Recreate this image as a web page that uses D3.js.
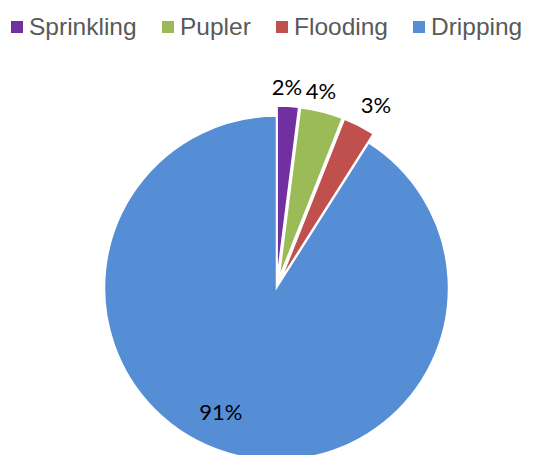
<!DOCTYPE html>
<html>
<head>
<meta charset="utf-8">
<script src="https://cdn.jsdelivr.net/npm/d3@7"></script>
<style>
  body { margin: 0; background: #fff; }
  svg { display: block; }
</style>
</head>
<body>
<svg width="553" height="455"></svg>
<script>
const categories = ["Sprinkling", "Pupler", "Flooding", "Dripping"];
const shares = [2, 4, 3, 91];
const labels = ["2%", "4%", "3%", "91%"];
const colors = ["#7030A0", "#9BBB59", "#C0504D", "#558ED5"];

function main() {
  const svg = d3.select("svg");
  const cx = 276.5, cy = 288, radius = 172;

  // legend across the top
  const legendX = [11, 162, 276, 413];
  const legend = svg.append("g");
  categories.forEach((c, i) => {
    legend.append("rect")
      .attr("x", legendX[i]).attr("y", 21)
      .attr("width", 12).attr("height", 12)
      .attr("fill", colors[i]);
    legend.append("text")
      .attr("x", legendX[i] + 18).attr("y", 35)
      .attr("font-family", "Liberation Sans, Arial, sans-serif")
      .attr("font-size", 24.5)
      .attr("fill", "#595959")
      .text(c);
  });

  const pie = d3.pie().sort(null).value(d => d)(shares);
  const arc = d3.arc().innerRadius(0).outerRadius(radius);
  const explode = [10, 10, 10, 0];

  const g = svg.append("g").attr("transform", `translate(${cx},${cy})`);

  g.selectAll("path")
    .data(pie)
    .join("path")
    .attr("d", arc)
    .attr("fill", (d, i) => colors[i])
    .attr("stroke", "#fff")
    .attr("stroke-width", 1.5)
    .attr("transform", (d, i) => {
      const a = (d.startAngle + d.endAngle) / 2;
      const [x, y] = d3.pointRadial(a, explode[i]);
      return `translate(${x},${y})`;
    });

  // data labels: outside end for small slices, inside for the big one
  const labelR = [191, 192, 198, 136];
  const labelShift = [-0.011, -0.031, 0.029, 0.14];
  g.selectAll("text.lbl")
    .data(pie)
    .join("text")
    .attr("class", "lbl")
    .attr("transform", (d, i) => {
      const a = (d.startAngle + d.endAngle) / 2;
      const [ex, ey] = d3.pointRadial(a, explode[i]);
      const [x, y] = d3.pointRadial(a + labelShift[i], labelR[i]);
      return `translate(${ex + x},${ey + y})`;
    })
    .attr("text-anchor", "middle")
    .attr("dy", "0.35em")
    .attr("font-family", "Lato, Open Sans, sans-serif")
    .attr("font-size", 22)
    .attr("fill", "#000")
    .text((d, i) => labels[i]);
}
main();
</script>
</body>
</html>
